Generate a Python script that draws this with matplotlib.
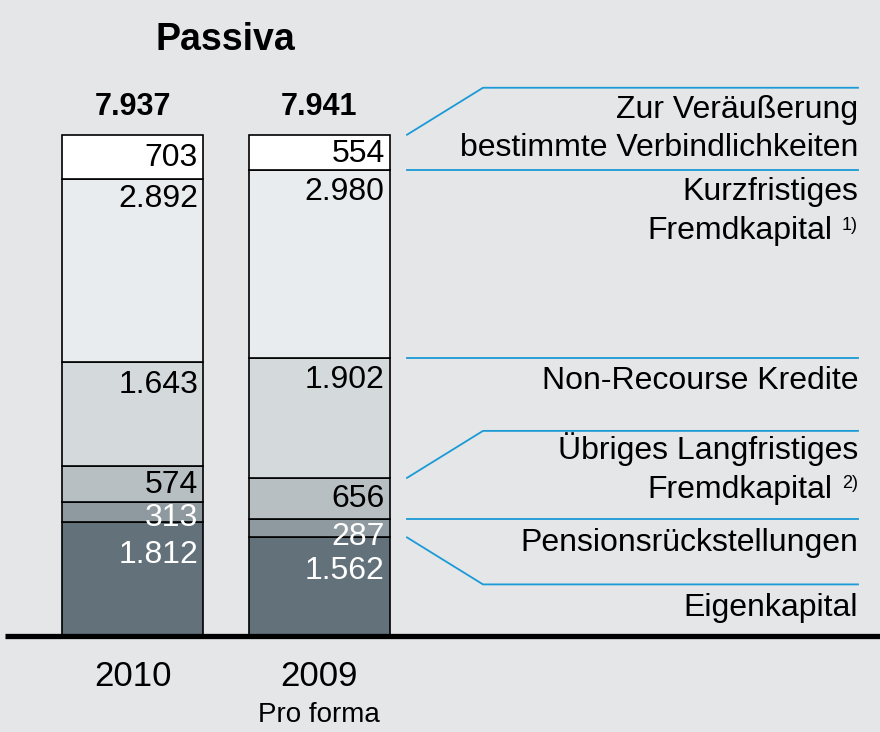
import matplotlib
matplotlib.use("Agg")
import numpy as np
import matplotlib.pyplot as plt

plt.rcParams['font.family'] = ['Liberation Sans', 'DejaVu Sans']

# data (bottom -> top)
years = ["2010", "2009"]
year_sub = ["", "Pro forma"]
segments = ["Eigenkapital", "Pensionsrückstellungen", "Übriges Langfristiges Fremdkapital",
            "Non-Recourse Kredite", "Kurzfristiges Fremdkapital", "Zur Veräußerung bestimmte Verbindlichkeiten"]
vals_2010 = [1812, 313, 574, 1643, 2892, 703]
vals_2009 = [1562, 287, 656, 1902, 2980, 554]
totals = [7937, 7941]

colors = ["#62717a", "#8f9aa0", "#b8bfc2", "#d4d9dc", "#e9ecee", "#ffffff"]
txt_colors = ["white", "white", "black", "black", "black", "black"]
# label centre, pixels below the segment top
lab_off = [[31, 14, 17, 21, 18, 21], [32, 16, 19, 20, 20, 17]]

bg = "#e5e6e8"
blue = "#1a9ad6"

W, H = 880, 732
fig = plt.figure(figsize=(W / 100, H / 100), dpi=100, facecolor=bg)
ax = fig.add_axes([0, 0, 1, 1])
ax.set_facecolor(bg)
ax.axis("off")

# pixel layout
base_px = 636
k = 501 / 7937          # px per unit
cx = [132.5, 319.2]
step = cx[1] - cx[0]
ax.set_xlim(-cx[0] / step, (W - cx[0]) / step)
ax.set_ylim(-(H - base_px) / k, base_px / k)

def px_x(x):
    return (x - cx[0]) / step

def py(y):
    return (base_px - y) / k

fs = 23
width = 141 / step
for i, vals in enumerate([vals_2010, vals_2009]):
    bottoms = np.concatenate([[0], np.cumsum(vals)[:-1]])
    ax.bar(i, vals, bottom=bottoms, width=width, color=colors,
           edgecolor="black", linewidth=1.2, zorder=2)
    for j, v in enumerate(vals):
        top = bottoms[j] + v
        ax.text(i + width / 2 - 5 / step, top - (lab_off[i][j] + 2) / k,
                f"{v:,}".replace(",", "."), ha="right", va="center",
                fontsize=fs, color=txt_colors[j], zorder=3)
    ax.text(i, totals[i] + 28 / k, f"{totals[i]:,}".replace(",", "."),
            ha="center", va="center", fontsize=22, fontweight="bold")
    ax.text(i, py(676), years[i], ha="center", va="center", fontsize=25)
    if year_sub[i]:
        ax.text(i, py(715), year_sub[i], ha="center", va="center", fontsize=20)

ax.text(0.5, py(40), "Passiva", ha="center", va="center", fontsize=27, fontweight="bold")

# baseline
ax.plot([px_x(5), px_x(W)], [0, 0], color="black", lw=3.8, solid_capstyle="butt", zorder=4)

# connector lines from the 2009 bar boundaries
bounds = np.cumsum(vals_2009)[::-1]
elbow = [1, 0, 0, 1, 0, -1]
x0, x1, x2 = px_x(407), px_x(483), px_x(858)
for b, e in zip(bounds, elbow):
    if e == 0:
        ax.plot([x0, x2], [b, b], color=blue, lw=1.3)
    else:
        yb = b + e * 47 / k
        ax.plot([x0, x1, x2], [b, yb, yb], color=blue, lw=1.3)

# right-hand labels
rx = px_x(858)
right_lines = [("Zur Veräußerung", 110), ("bestimmte Verbindlichkeiten", 148),
               ("Kurzfristiges", 192), ("Non-Recourse Kredite", 381),
               ("Übriges Langfristiges", 449), ("Pensionsrückstellungen", 543),
               ("Eigenkapital", 608)]
for t, y in right_lines:
    ax.text(rx, py(y), t, ha="right", va="center", fontsize=fs)
for y, note in [(231, "1)"), (490, "2)")]:
    ax.text(px_x(832), py(y), "Fremdkapital", ha="right", va="center", fontsize=fs)
    ax.text(rx, py(y - 6), note, ha="right", va="center", fontsize=13)

fig.savefig("out.png", dpi=100, facecolor=bg)
